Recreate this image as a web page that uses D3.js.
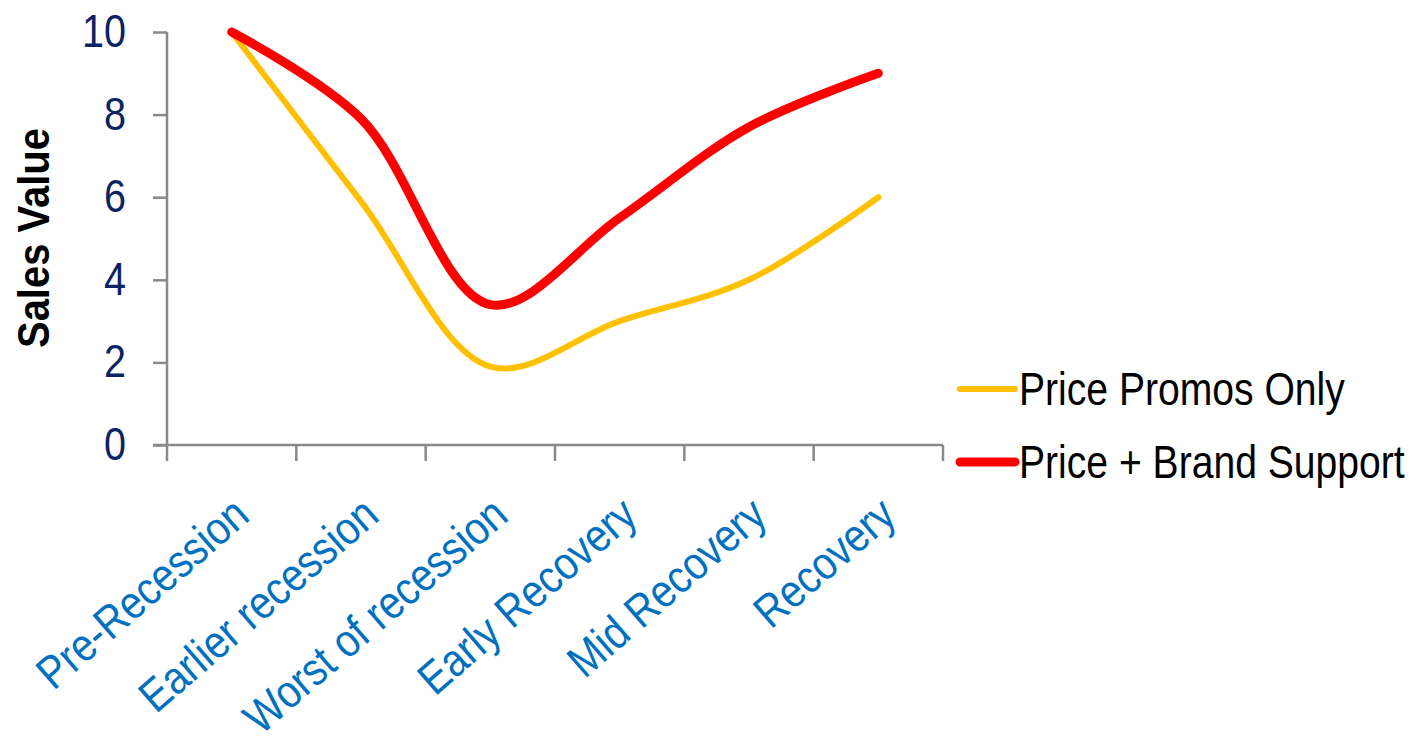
<!DOCTYPE html>
<html>
<head>
<meta charset="utf-8">
<script src="https://cdn.jsdelivr.net/npm/d3@7"></script>
<style>
  html, body { margin: 0; padding: 0; background: #fff; }
  svg { display: block; }
  text { font-family: "Liberation Sans", Arial, sans-serif; }
</style>
</head>
<body>
<svg id="chart" width="1420" height="746"></svg>
<script>
const categories = ["Pre-Recession", "Earlier recession", "Worst of recession", "Early Recovery", "Mid Recovery", "Recovery"];
const seriesNames = ["Price Promos Only", "Price + Brand Support"];
const pricePromosOnly = [10, 5.9, 1.9, 3.0, 4.0, 6.0];
const priceBrandSupport = [10, 7.9, 3.4, 5.5, 7.7, 9.0];
const yTicks = [0, 2, 4, 6, 8, 10];
const yTitle = "Sales Value";

const svg = d3.select("#chart");
const x = d3.scaleBand().domain(categories).range([167, 943]).padding(0);
const y = d3.scaleLinear().domain([0, 10]).range([445, 32]);
const axisColor = "#898989";

// Y axis
const yAxis = svg.append("g").attr("transform", "translate(167,0)")
  .call(d3.axisLeft(y).tickValues(yTicks).tickSize(14).tickFormat(""));
yAxis.selectAll("path, line").attr("stroke", axisColor).attr("stroke-width", 2.5);
yAxis.select("path").attr("d", `M0,${y(10)}V${y(0)}`);

svg.append("g").selectAll("text").data(yTicks).join("text")
  .attr("transform", d => `translate(126,${y(d) + 15}) scale(0.86,1)`)
  .attr("text-anchor", "end")
  .attr("font-size", 46)
  .attr("fill", "#0B2263")
  .text(d => d);

// X axis
const xg = svg.append("g");
xg.append("line").attr("x1", 153).attr("x2", x.range()[1]).attr("y1", y(0)).attr("y2", y(0))
  .attr("stroke", axisColor).attr("stroke-width", 2.5);
const edges = categories.map(c => x(c)).concat([x.range()[1]]);
xg.selectAll("line.tick").data(edges).join("line").attr("class", "tick")
  .attr("x1", d => d).attr("x2", d => d).attr("y1", y(0)).attr("y2", y(0) + 16)
  .attr("stroke", axisColor).attr("stroke-width", 2.5);

svg.append("g").selectAll("text").data(categories).join("text")
  .attr("transform", d => `translate(${x(d) + x.bandwidth() / 2 + 20},519) rotate(-41) scale(0.87,1)`)
  .attr("text-anchor", "end")
  .attr("font-size", 46)
  .attr("fill", "#0070C0")
  .text(d => d);

// Y title
svg.append("text")
  .attr("transform", "translate(49,238) rotate(-90) scale(1,1.1)")
  .attr("text-anchor", "middle")
  .attr("font-size", 40)
  .attr("font-weight", "bold")
  .attr("fill", "#000")
  .text(yTitle);

// Lines
const line = d3.line()
  .x((d, i) => x(categories[i]) + x.bandwidth() / 2)
  .y(d => y(d))
  .curve(d3.curveCatmullRom.alpha(0.5));

svg.append("path").datum(pricePromosOnly).attr("d", line)
  .attr("fill", "none").attr("stroke", "#FFC000").attr("stroke-width", 6)
  .attr("stroke-linecap", "round").attr("stroke-linejoin", "round");
svg.append("path").datum(priceBrandSupport).attr("d", line)
  .attr("fill", "none").attr("stroke", "#FF0000").attr("stroke-width", 9)
  .attr("stroke-linecap", "round").attr("stroke-linejoin", "round");

// Legend
const legendColors = ["#FFC000", "#FF0000"];
const legendWidths = [6, 9];
const legendY = [389, 462];
const lg = svg.append("g");
seriesNames.forEach((name, i) => {
  lg.append("line").attr("x1", 960).attr("x2", 1015).attr("y1", legendY[i]).attr("y2", legendY[i])
    .attr("stroke", legendColors[i]).attr("stroke-width", legendWidths[i]).attr("stroke-linecap", "round");
  lg.append("text")
    .attr("transform", `translate(1019,${legendY[i] + 16}) scale(0.85,1)`)
    .attr("font-size", 46)
    .attr("fill", "#000")
    .text(name);
});
</script>
</body>
</html>
